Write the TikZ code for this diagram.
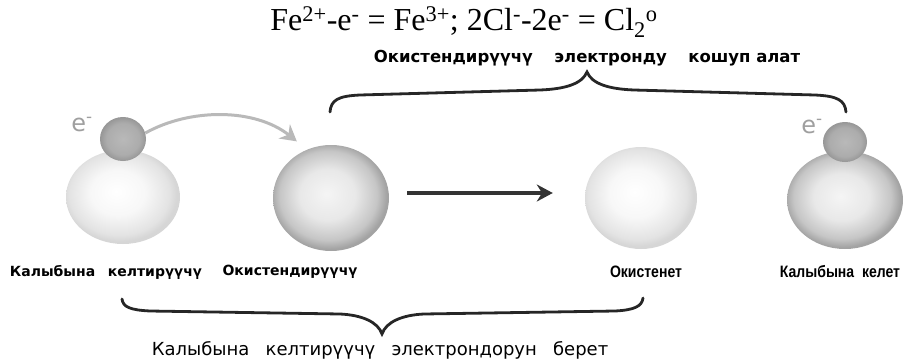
\documentclass[tikz,border=0pt]{standalone}
\usepackage{fontspec}
\setmainfont{Liberation Serif}
\setsansfont{DejaVu Sans}
\newfontfamily\narrowsans[FakeStretch=0.85]{Liberation Sans}
\usetikzlibrary{arrows.meta,shapes.geometric}

\pgfdeclareradialshading{palesphere}{\pgfpoint{-3bp}{3bp}}{color(0bp)=(white); color(12bp)=(gray!6); color(22bp)=(gray!22); color(25bp)=(gray!32); color(50bp)=(gray!32)}
\pgfdeclareradialshading{greysphere}{\pgfpoint{-2bp}{2bp}}{color(0bp)=(gray!8); color(12bp)=(gray!18); color(21bp)=(gray!45); color(25bp)=(gray!72); color(50bp)=(gray!72)}
\pgfdeclareradialshading{electron}{\pgfpoint{0bp}{0bp}}{color(0bp)=(gray!55); color(18bp)=(gray!65); color(25bp)=(gray!82); color(50bp)=(gray!82)}

\newcommand\gap{\hspace{0.9em}}

\begin{document}
\begin{tikzpicture}[x=1pt,y=-1pt,
  sphere/.style={ellipse,inner sep=0pt,draw=none},
  lbl/.style={font=\sffamily\bfseries\fontsize{14}{16}\selectfont},
  narrowlbl/.style={font=\narrowsans\bfseries\fontsize{16.5}{18}\selectfont},
  echarge/.style={font=\sffamily\fontsize{24}{26}\selectfont,text=gray!75},
  brace/.style={line width=2.8pt,black!85,line cap=round}]
\useasboundingbox (0,0) rectangle (916,362);

% the equation
\node (eq) at (464,22) {\fontsize{32}{35}\selectfont Fe\textsuperscript{2+}-e\textsuperscript{-} = Fe\textsuperscript{3+}; 2Cl\textsuperscript{-}-2e\textsuperscript{-} = Cl\textsubscript{2}\textsuperscript{o}};
\node[font=\sffamily\bfseries\fontsize{16.5}{18}\selectfont] (gain) at (587,58) {Окистендирүүчү\hspace{1.3em}электронду\hspace{1.3em}кошуп алат};

% atoms
\node[sphere,shading=palesphere,minimum width=114pt,minimum height=94pt] (red) at (123,197) {};
\node[sphere,shading=greysphere,minimum width=116pt,minimum height=106pt] (oxid) at (331,198) {};
\node[sphere,shading=palesphere,minimum width=112pt,minimum height=102pt] (ox) at (641,198) {};
\node[sphere,shading=greysphere,minimum width=116pt,minimum height=98pt] (redx) at (845,200) {};
\node[sphere,shading=electron,minimum width=46pt,minimum height=44pt] (el) at (123,139) {};
\node[sphere,shading=electron,minimum width=44pt,minimum height=40pt] (elx) at (845,142) {};
\node[echarge] (eml) at (82,125) {e\textsuperscript{-}};
\node[echarge] (emr) at (812,127) {e\textsuperscript{-}};

% arrows
\draw[gray!55,line width=3pt,-{Stealth[length=16pt,width=18pt]}] (el.15) .. controls (190,108) and (255,108) .. ([shift={(7,-19)}]oxid.north west);
\draw[black!80,line width=4pt,-{Stealth[length=16pt,width=17pt]}] ([shift={(18,-5)}]oxid.east) -- ([shift={(-32,-5)}]ox.west);

% names
\node[lbl] (lred) at (106,272) {Калыбына\gap келтирүүчү};
\node[lbl] (loxid) at (290,272) {Окистендирүүчү};
\node[narrowlbl] (lox) at (646,272) {Окистенет};
\node[narrowlbl] (lredx) at (840,272) {Калыбына\ \ келет};

% braces
\coordinate (ta) at (330,112);
\coordinate (ttip) at (587,72);
\coordinate (tb) at (846,112);
\coordinate (ba) at (122,299);
\coordinate (btip) at (382,334);
\coordinate (bb) at (643,298);
\draw[brace] (ta) .. controls (331,100) and (338,96) .. (360,95) -- (540,90)
  .. controls (565,89) and (582,84) .. (ttip)
  .. controls (592,84) and (609,89) .. (634,90) -- (815,95)
  .. controls (837,96) and (845,100) .. (tb);
\draw[brace] (ba) .. controls (123,307) and (130,310) .. (150,311) -- (340,314)
  .. controls (362,315) and (378,322) .. (btip)
  .. controls (386,322) and (402,315) .. (424,314) -- (615,311)
  .. controls (635,310) and (642,306) .. (bb);
\node[font=\sffamily\fontsize{18}{20}\selectfont] (give) at (380,350) {Калыбына\gap келтирүүчү\gap электрондорун\gap берет};
\end{tikzpicture}
\end{document}
